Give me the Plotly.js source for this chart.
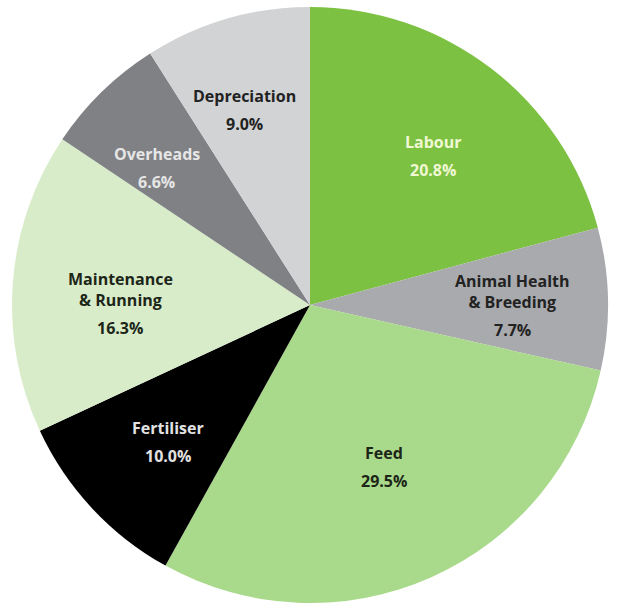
<!DOCTYPE html>
<html>
<head>
<meta charset="utf-8">
<script src="https://cdn.plot.ly/plotly-3.0.1.min.js"></script>
<style>html,body{margin:0;padding:0;background:#fff;}#chart{width:619px;height:611px;}</style>
</head>
<body>
<div id="chart"></div>
<script>
// Data
const categories = ["Labour", "Animal Health<br>& Breeding", "Feed", "Fertiliser", "Maintenance<br>& Running", "Overheads", "Depreciation"];
const shares = [20.8, 7.7, 29.5, 10.0, 16.3, 6.6, 9.0];

// Styles
const sliceColors = ["#7cc142", "#a9aaad", "#a9d98a", "#000000", "#d9ecca", "#808184", "#d1d3d5"];
const labelColors = ["#f0f8d4", "#222222", "#1c2618", "#e2e2e2", "#1c2618", "#e6e6e6", "#222222"];
// label placement: fraction of radius and angular nudge (degrees) from slice mid-angle
const labelRadius = [0.648, 0.682, 0.597, 0.664, 0.638, 0.689, 0.692];
const labelNudge = [2.1, 4.2, -0.6, -1.0, -7.1, -3.9, -2.4];

const W = 619, H = 611;
const dom = {x: [12/W, 608/W], y: [8/H, 604/H]};

const trace = {
  type: "pie",
  labels: categories,
  values: shares,
  sort: false,
  direction: "clockwise",
  rotation: 0,
  marker: {colors: sliceColors, line: {width: 0}},
  textinfo: "none",
  hoverinfo: "none",
  domain: dom
};

// geometry of the pie (as plotly lays it out)
const cx = (dom.x[0] + dom.x[1]) / 2 * W;
const cy = (1 - (dom.y[0] + dom.y[1]) / 2) * H;
const R = Math.min((dom.x[1] - dom.x[0]) * W, (dom.y[1] - dom.y[0]) * H) / 2;
const total = shares.reduce((a, b) => a + b, 0);

const font = {family: "Open Sans, sans-serif", size: 16};
const annotations = [];
let cum = 0;
shares.forEach((v, i) => {
  const mid = (cum + v / 2) / total * 360 + labelNudge[i];
  cum += v;
  const a = mid * Math.PI / 180;
  const px = cx + labelRadius[i] * R * Math.sin(a);
  const py = cy - labelRadius[i] * R * Math.cos(a);
  const xp = px / W, yp = 1 - py / H;
  const f = Object.assign({}, font, {color: labelColors[i]});
  annotations.push({
    xref: "paper", yref: "paper", x: xp, y: yp, xanchor: "center", yanchor: "bottom",
    text: "<b>" + categories[i] + "</b>", showarrow: false, font: f, borderpad: 0, borderwidth: 0, yshift: 3
  });
  annotations.push({
    xref: "paper", yref: "paper", x: xp, y: yp, xanchor: "center", yanchor: "top",
    text: "<b>" + v.toFixed(1) + "%</b>", showarrow: false, font: f, borderpad: 0, borderwidth: 0, yshift: -3
  });
});

Plotly.newPlot("chart", [trace], {
  width: W, height: H,
  margin: {l: 0, r: 0, t: 0, b: 0},
  showlegend: false,
  paper_bgcolor: "#ffffff",
  annotations: annotations
}, {displayModeBar: false, staticPlot: true});
</script>
</body>
</html>
